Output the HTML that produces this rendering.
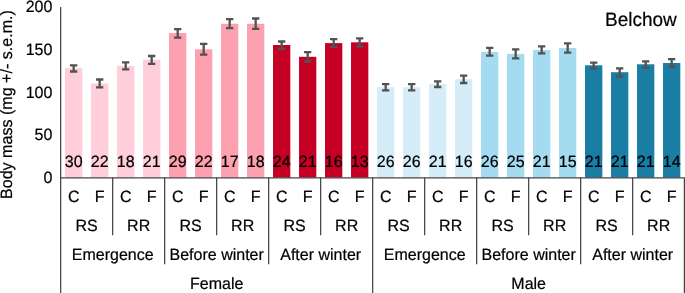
<!DOCTYPE html>
<html><head><meta charset="utf-8"><title>Belchow</title>
<style>html,body{margin:0;padding:0;background:#fff}svg{display:block}text{font-family:"Liberation Sans",sans-serif;text-rendering:geometricPrecision}</style></head>
<body>
<svg width="685" height="293" viewBox="0 0 685 293" font-size="16" fill="#000">
<rect width="685" height="293" fill="#fff"/>
<rect x="65.03" y="68.10" width="17.3" height="109.50" fill="#FFCEDA"/>
<rect x="91.03" y="83.50" width="17.3" height="94.10" fill="#FFCEDA"/>
<rect x="117.03" y="65.90" width="17.3" height="111.70" fill="#FFCEDA"/>
<rect x="143.03" y="59.80" width="17.3" height="117.80" fill="#FFCEDA"/>
<rect x="169.03" y="33.00" width="17.3" height="144.60" fill="#FDA0B0"/>
<rect x="195.03" y="49.30" width="17.3" height="128.30" fill="#FDA0B0"/>
<rect x="221.03" y="23.80" width="17.3" height="153.80" fill="#FDA0B0"/>
<rect x="247.03" y="23.80" width="17.3" height="153.80" fill="#FDA0B0"/>
<rect x="273.03" y="45.00" width="17.3" height="132.60" fill="#C60025"/>
<rect x="299.03" y="56.80" width="17.3" height="120.80" fill="#C60025"/>
<rect x="325.03" y="43.10" width="17.3" height="134.50" fill="#C60025"/>
<rect x="351.03" y="42.30" width="17.3" height="135.30" fill="#C60025"/>
<rect x="377.03" y="87.20" width="17.3" height="90.40" fill="#D4EDF8"/>
<rect x="403.03" y="87.20" width="17.3" height="90.40" fill="#D4EDF8"/>
<rect x="429.03" y="84.10" width="17.3" height="93.50" fill="#D4EDF8"/>
<rect x="455.03" y="79.20" width="17.3" height="98.40" fill="#D4EDF8"/>
<rect x="481.03" y="51.90" width="17.3" height="125.70" fill="#A5DBF1"/>
<rect x="507.03" y="53.90" width="17.3" height="123.70" fill="#A5DBF1"/>
<rect x="533.03" y="50.00" width="17.3" height="127.60" fill="#A5DBF1"/>
<rect x="559.03" y="48.00" width="17.3" height="129.60" fill="#A5DBF1"/>
<rect x="585.03" y="65.30" width="17.3" height="112.30" fill="#1A7DA3"/>
<rect x="611.03" y="72.20" width="17.3" height="105.40" fill="#1A7DA3"/>
<rect x="637.03" y="64.30" width="17.3" height="113.30" fill="#1A7DA3"/>
<rect x="663.03" y="63.00" width="17.3" height="114.60" fill="#1A7DA3"/>
<g stroke="#444" stroke-width="1.25" fill="none">
<line x1="60.67" y1="7" x2="60.67" y2="293"/>
<line x1="60.67" y1="177.8" x2="684.4" y2="177.8" stroke-width="1.35"/>
<line x1="112.67" y1="177.6" x2="112.67" y2="235.3"/>
<line x1="164.67" y1="177.6" x2="164.67" y2="264.2"/>
<line x1="216.67" y1="177.6" x2="216.67" y2="235.3"/>
<line x1="268.67" y1="177.6" x2="268.67" y2="264.2"/>
<line x1="320.67" y1="177.6" x2="320.67" y2="235.3"/>
<line x1="372.67" y1="177.6" x2="372.67" y2="293"/>
<line x1="424.67" y1="177.6" x2="424.67" y2="235.3"/>
<line x1="476.67" y1="177.6" x2="476.67" y2="264.2"/>
<line x1="528.67" y1="177.6" x2="528.67" y2="235.3"/>
<line x1="580.67" y1="177.6" x2="580.67" y2="264.2"/>
<line x1="632.67" y1="177.6" x2="632.67" y2="235.3"/>
<line x1="684.40" y1="177.6" x2="684.40" y2="293"/>
</g>
<g stroke="#525252" stroke-width="2.3" fill="none">
<path d="M73.68 65.40V71.50M70.03 65.40H77.33M70.03 71.50H77.33"/>
<path d="M99.68 79.50V87.30M96.03 79.50H103.33M96.03 87.30H103.33"/>
<path d="M125.68 62.30V69.30M122.03 62.30H129.33M122.03 69.30H129.33"/>
<path d="M151.68 56.00V63.80M148.03 56.00H155.33M148.03 63.80H155.33"/>
<path d="M177.68 29.20V37.60M174.03 29.20H181.33M174.03 37.60H181.33"/>
<path d="M203.68 43.80V54.70M200.03 43.80H207.33M200.03 54.70H207.33"/>
<path d="M229.68 19.20V28.10M226.03 19.20H233.33M226.03 28.10H233.33"/>
<path d="M255.68 18.50V28.90M252.03 18.50H259.33M252.03 28.90H259.33"/>
<path d="M281.68 41.50V48.80M278.03 41.50H285.33M278.03 48.80H285.33"/>
<path d="M307.68 52.20V61.50M304.03 52.20H311.33M304.03 61.50H311.33"/>
<path d="M333.68 39.10V46.90M330.03 39.10H337.33M330.03 46.90H337.33"/>
<path d="M359.68 38.40V46.50M356.03 38.40H363.33M356.03 46.50H363.33"/>
<path d="M385.68 84.10V90.40M382.03 84.10H389.33M382.03 90.40H389.33"/>
<path d="M411.68 84.10V90.40M408.03 84.10H415.33M408.03 90.40H415.33"/>
<path d="M437.68 81.40V87.00M434.03 81.40H441.33M434.03 87.00H441.33"/>
<path d="M463.68 75.70V83.00M460.03 75.70H467.33M460.03 83.00H467.33"/>
<path d="M489.68 47.90V55.70M486.03 47.90H493.33M486.03 55.70H493.33"/>
<path d="M515.68 49.40V58.40M512.03 49.40H519.33M512.03 58.40H519.33"/>
<path d="M541.68 46.40V53.40M538.03 46.40H545.33M538.03 53.40H545.33"/>
<path d="M567.68 43.40V52.60M564.03 43.40H571.33M564.03 52.60H571.33"/>
<path d="M593.68 62.60V68.50M590.03 62.60H597.33M590.03 68.50H597.33"/>
<path d="M619.68 68.40V76.50M616.03 68.40H623.33M616.03 76.50H623.33"/>
<path d="M645.68 61.40V67.60M642.03 61.40H649.33M642.03 67.60H649.33"/>
<path d="M671.68 59.20V66.50M668.03 59.20H675.33M668.03 66.50H675.33"/>
</g>
<g text-anchor="middle" stroke="#000" stroke-width="0.2">
<text transform="translate(73.68 167.00) scale(1 1.02)">30</text>
<text transform="translate(73.68 202.30) scale(1 1.02)">C</text>
<text transform="translate(99.68 167.00) scale(1 1.02)">22</text>
<text transform="translate(99.68 202.30) scale(1 1.02)">F</text>
<text transform="translate(125.68 167.00) scale(1 1.02)">18</text>
<text transform="translate(125.68 202.30) scale(1 1.02)">C</text>
<text transform="translate(151.68 167.00) scale(1 1.02)">21</text>
<text transform="translate(151.68 202.30) scale(1 1.02)">F</text>
<text transform="translate(177.68 167.00) scale(1 1.02)">29</text>
<text transform="translate(177.68 202.30) scale(1 1.02)">C</text>
<text transform="translate(203.68 167.00) scale(1 1.02)">22</text>
<text transform="translate(203.68 202.30) scale(1 1.02)">F</text>
<text transform="translate(229.68 167.00) scale(1 1.02)">17</text>
<text transform="translate(229.68 202.30) scale(1 1.02)">C</text>
<text transform="translate(255.68 167.00) scale(1 1.02)">18</text>
<text transform="translate(255.68 202.30) scale(1 1.02)">F</text>
<text transform="translate(281.68 167.00) scale(1 1.02)">24</text>
<text transform="translate(281.68 202.30) scale(1 1.02)">C</text>
<text transform="translate(307.68 167.00) scale(1 1.02)">21</text>
<text transform="translate(307.68 202.30) scale(1 1.02)">F</text>
<text transform="translate(333.68 167.00) scale(1 1.02)">16</text>
<text transform="translate(333.68 202.30) scale(1 1.02)">C</text>
<text transform="translate(359.68 167.00) scale(1 1.02)">13</text>
<text transform="translate(359.68 202.30) scale(1 1.02)">F</text>
<text transform="translate(385.68 167.00) scale(1 1.02)">26</text>
<text transform="translate(385.68 202.30) scale(1 1.02)">C</text>
<text transform="translate(411.68 167.00) scale(1 1.02)">26</text>
<text transform="translate(411.68 202.30) scale(1 1.02)">F</text>
<text transform="translate(437.68 167.00) scale(1 1.02)">21</text>
<text transform="translate(437.68 202.30) scale(1 1.02)">C</text>
<text transform="translate(463.68 167.00) scale(1 1.02)">16</text>
<text transform="translate(463.68 202.30) scale(1 1.02)">F</text>
<text transform="translate(489.68 167.00) scale(1 1.02)">26</text>
<text transform="translate(489.68 202.30) scale(1 1.02)">C</text>
<text transform="translate(515.68 167.00) scale(1 1.02)">25</text>
<text transform="translate(515.68 202.30) scale(1 1.02)">F</text>
<text transform="translate(541.68 167.00) scale(1 1.02)">21</text>
<text transform="translate(541.68 202.30) scale(1 1.02)">C</text>
<text transform="translate(567.68 167.00) scale(1 1.02)">15</text>
<text transform="translate(567.68 202.30) scale(1 1.02)">F</text>
<text transform="translate(593.68 167.00) scale(1 1.02)">21</text>
<text transform="translate(593.68 202.30) scale(1 1.02)">C</text>
<text transform="translate(619.68 167.00) scale(1 1.02)">21</text>
<text transform="translate(619.68 202.30) scale(1 1.02)">F</text>
<text transform="translate(645.68 167.00) scale(1 1.02)">21</text>
<text transform="translate(645.68 202.30) scale(1 1.02)">C</text>
<text transform="translate(671.68 167.00) scale(1 1.02)">14</text>
<text transform="translate(671.68 202.30) scale(1 1.02)">F</text>
<text transform="translate(86.67 231.30) scale(1 1.02)">RS</text>
<text transform="translate(138.67 231.30) scale(1 1.02)">RR</text>
<text transform="translate(190.67 231.30) scale(1 1.02)">RS</text>
<text transform="translate(242.67 231.30) scale(1 1.02)">RR</text>
<text transform="translate(294.67 231.30) scale(1 1.02)">RS</text>
<text transform="translate(346.67 231.30) scale(1 1.02)">RR</text>
<text transform="translate(398.67 231.30) scale(1 1.02)">RS</text>
<text transform="translate(450.67 231.30) scale(1 1.02)">RR</text>
<text transform="translate(502.67 231.30) scale(1 1.02)">RS</text>
<text transform="translate(554.67 231.30) scale(1 1.02)">RR</text>
<text transform="translate(606.67 231.30) scale(1 1.02)">RS</text>
<text transform="translate(658.67 231.30) scale(1 1.02)">RR</text>
<text transform="translate(112.67 259.90) scale(1 1.02)">Emergence</text>
<text transform="translate(216.67 259.90) scale(1 1.02)">Before winter</text>
<text transform="translate(320.67 259.90) scale(1 1.02)">After winter</text>
<text transform="translate(424.67 259.90) scale(1 1.02)">Emergence</text>
<text transform="translate(528.67 259.90) scale(1 1.02)">Before winter</text>
<text transform="translate(632.67 259.90) scale(1 1.02)">After winter</text>
<text transform="translate(216.67 288.60) scale(1 1.02)">Female</text>
<text transform="translate(528.67 288.60) scale(1 1.02)">Male</text>
</g>
<g text-anchor="end" stroke="#000" stroke-width="0.2">
<text transform="translate(52.40 12.25) scale(1 1.02)">200</text>
<text transform="translate(52.40 55.15) scale(1 1.02)">150</text>
<text transform="translate(52.40 97.70) scale(1 1.02)">100</text>
<text transform="translate(52.40 139.95) scale(1 1.02)">50</text>
<text transform="translate(52.40 183.25) scale(1 1.02)">0</text>
</g>
<text transform="translate(12.3 104.55) rotate(-90) scale(1 1.02)" font-size="16.08" text-anchor="middle" stroke="#000" stroke-width="0.2">Body mass (mg +/- s.e.m.)</text>
<text transform="translate(676.8 26) scale(1 1.02)" text-anchor="end" font-size="19" stroke="#000" stroke-width="0.2">Belchow</text>
</svg>
</body></html>
